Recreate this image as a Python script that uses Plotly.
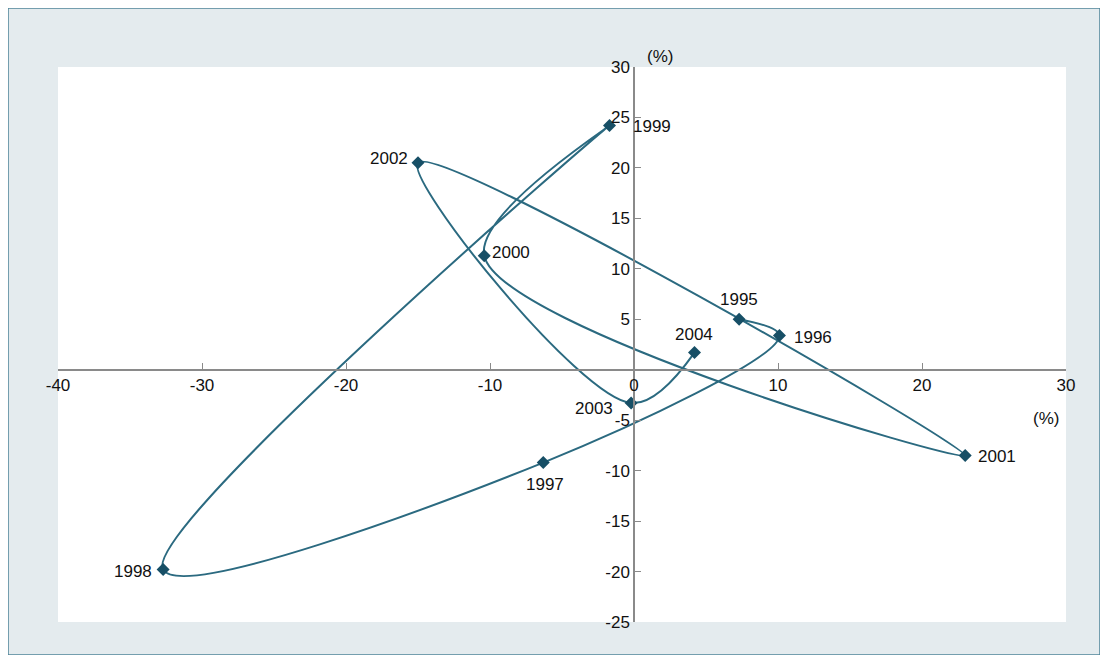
import plotly.graph_objects as go

# Data
years = ["1995", "1996", "1997", "1998", "1999", "2000", "2001", "2002", "2003", "2004"]
x_growth = [7.3, 10.1, -6.3, -32.7, -1.7, -10.4, 23.0, -15.0, -0.2, 4.2]
y_growth = [5.0, 3.4, -9.2, -19.8, 24.2, 11.3, -8.5, 20.5, -3.3, 1.7]

x_ticks = [-40, -30, -20, -10, 0, 10, 20, 30]
y_ticks = [-25, -20, -15, -10, -5, 5, 10, 15, 20, 25, 30]

# label offsets (pixels) relative to each point
label_dx = [0, 34, 2, -30, 42, 27, 32, -29, -37, 0]
label_dy = [20, -2, -22, -2, -1, 3, -1, 4, -5, 18]

# page body has an 8px margin; figure is sized to fit inside the window
OFF = 8
W, H = 1108 - 2 * OFF, 663 - 2 * OFF
L = 58 - OFF
T = 67 - OFF
R = W - (1066 - OFF)
B = H - (622 - OFF)
pw, ph = W - L - R, H - T - B

def px_x(p):  # window pixel -> paper fraction
    return (p - OFF - L) / pw

def px_y(p):
    return (H - B - (p - OFF)) / ph

x_range = [-40, 30]
y_range = [-25, 30]

FONT = "Liberation Sans, Arial, sans-serif"
TXT = dict(family=FONT, size=17, color="#111111")

fig = go.Figure()
fig.add_trace(go.Scatter(
    x=x_growth, y=y_growth,
    mode="lines+markers",
    line=dict(color="#2b6a80", width=2, shape="spline", smoothing=1.0),
    marker=dict(symbol="diamond", size=10, color="#174f66"),
    cliponaxis=False,
    showlegend=False,
))

annotations = []
for yr, xv, yv, dx, dy in zip(years, x_growth, y_growth, label_dx, label_dy):
    annotations.append(dict(text=yr, x=xv, y=yv, xref="x", yref="y", showarrow=False,
                            xanchor="center", yanchor="middle", xshift=dx, yshift=dy,
                            font=TXT))
annotations.append(dict(text="(%)", xref="x", yref="paper", x=1.8, y=px_y(45),
                        showarrow=False, font=TXT))
annotations.append(dict(text="(%)", xref="paper", yref="y", x=px_x(1061), y=-4.8,
                        showarrow=False, font=TXT))

# frame shapes
fig.add_shape(type="rect", xref="paper", yref="paper",
              x0=-L / pw, x1=1 + R / pw, y0=-B / ph, y1=1 + T / ph,
              fillcolor="#E4EBEE", line=dict(color="#4f8599", width=1.5), layer="below")
fig.add_shape(type="rect", xref="paper", yref="paper",
              x0=0, x1=1, y0=0, y1=1,
              fillcolor="#FFFFFF", line=dict(width=0), layer="below")

x_zero_pos = (0 - y_range[0]) / (y_range[1] - y_range[0])
y_zero_pos = (0 - x_range[0]) / (x_range[1] - x_range[0])

fig.update_layout(
    width=W, height=H,
    margin=dict(l=L, r=R, t=T, b=B, pad=0),
    paper_bgcolor="#FFFFFF",
    plot_bgcolor="rgba(0,0,0,0)",
    font=TXT,
    xaxis=dict(range=x_range, tickvals=x_ticks, ticktext=[str(v) for v in x_ticks],
               showgrid=False, zeroline=False, showline=True, linecolor="#8a8a8a", linewidth=1.5,
               ticks="inside", ticklen=6, tickcolor="#8a8a8a",
               anchor="free", position=x_zero_pos, tickfont=TXT),
    yaxis=dict(range=y_range, tickvals=y_ticks, ticktext=[str(v) for v in y_ticks],
               showgrid=False, zeroline=False, showline=True, linecolor="#8a8a8a", linewidth=1.5,
               ticks="inside", ticklen=6, tickcolor="#8a8a8a",
               anchor="free", position=y_zero_pos, tickfont=TXT),
    annotations=annotations,
)

fig.write_html("out.html")
